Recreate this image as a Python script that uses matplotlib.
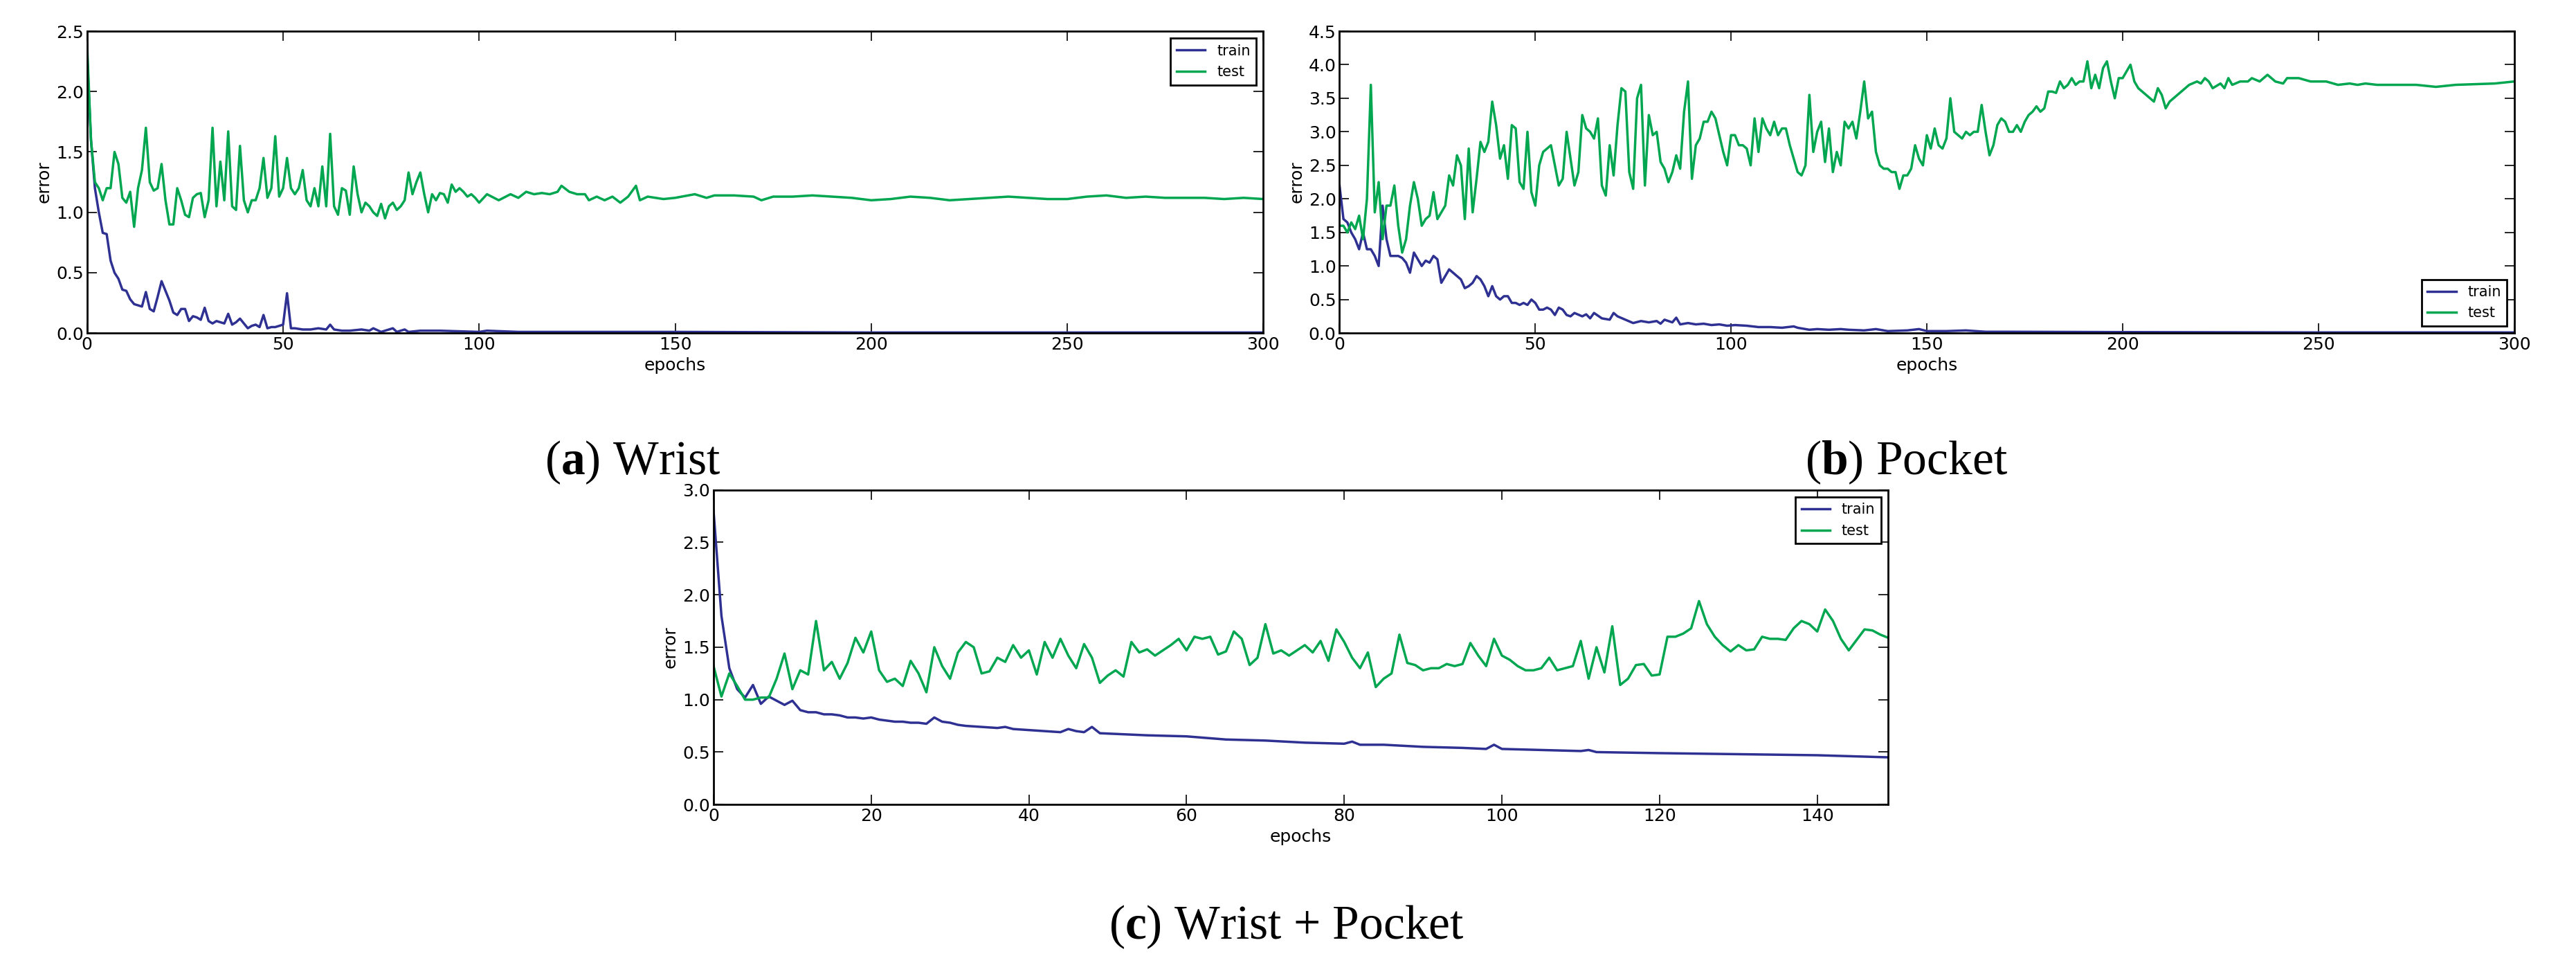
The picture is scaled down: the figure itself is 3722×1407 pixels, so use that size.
import matplotlib
matplotlib.use("Agg")
import matplotlib.pyplot as plt

# ---- data ----
a_test_x = [0,1,2,3,4,5,6,7,8,9,10,11,12,13,14,15,16,17,18,19,20,21,22,23,24,25,26,27,28,29,30,31,32,33,34,35,36,37,38,39,40,41,42,43,44,45,46,47,48,49,50,51,52,53,54,55,56,57,58,59,60,61,62,63,64,65,66,67,68,69,70,71,72,73,74,75,76,77,78,79,80,81,82,83,84,85,86,87,88,89,90,91,92,93,94,95,96,97,98,99,100,102,105,108,110,112,114,116,118,120,121,123,125,127,128,130,132,134,136,138,140,141,143,145,147,150,155,158,160,165,170,172,175,180,185,190,195,200,205,210,215,220,225,230,235,240,245,250,255,260,265,270,275,280,285,290,295,300]
a_test_y = [2.4,1.6,1.25,1.2,1.1,1.2,1.2,1.5,1.4,1.12,1.08,1.17,0.88,1.2,1.35,1.7,1.25,1.18,1.2,1.4,1.1,0.9,0.9,1.2,1.1,0.98,0.96,1.12,1.15,1.16,0.96,1.1,1.7,1.05,1.42,1.1,1.67,1.05,1.02,1.55,1.1,1.0,1.1,1.1,1.2,1.45,1.12,1.2,1.63,1.13,1.2,1.45,1.2,1.15,1.2,1.35,1.1,1.05,1.2,1.05,1.38,1.05,1.65,1.05,0.98,1.2,1.18,0.98,1.38,1.15,1.0,1.08,1.05,1.0,0.97,1.07,0.95,1.05,1.08,1.02,1.05,1.1,1.33,1.15,1.25,1.33,1.15,1.0,1.15,1.1,1.16,1.15,1.08,1.23,1.17,1.2,1.17,1.13,1.15,1.12,1.08,1.15,1.1,1.15,1.12,1.17,1.15,1.16,1.15,1.17,1.22,1.17,1.15,1.15,1.1,1.13,1.1,1.13,1.08,1.13,1.22,1.1,1.13,1.12,1.11,1.12,1.15,1.12,1.14,1.14,1.13,1.10,1.13,1.13,1.14,1.13,1.12,1.10,1.11,1.13,1.12,1.10,1.11,1.12,1.13,1.12,1.11,1.11,1.13,1.14,1.12,1.13,1.12,1.12,1.12,1.11,1.12,1.11]
a_train_x = [0,1,2,3,4,5,6,7,8,9,10,11,12,13,14,15,16,17,18,19,20,21,22,23,24,25,26,27,28,29,30,31,32,33,34,35,36,37,38,39,40,41,42,43,44,45,46,47,48,49,50,51,52,53,55,57,59,61,62,63,65,67,70,72,73,75,77,78,79,81,82,85,90,100,102,110,150,200,300]
a_train_y = [2.3,1.6,1.2,1.0,0.83,0.82,0.6,0.5,0.45,0.36,0.35,0.28,0.24,0.23,0.22,0.34,0.2,0.18,0.3,0.43,0.35,0.27,0.17,0.15,0.2,0.2,0.1,0.14,0.13,0.11,0.21,0.1,0.08,0.1,0.09,0.08,0.16,0.07,0.09,0.12,0.08,0.04,0.06,0.07,0.05,0.15,0.04,0.05,0.05,0.06,0.07,0.33,0.04,0.04,0.03,0.03,0.04,0.03,0.07,0.03,0.02,0.02,0.03,0.02,0.04,0.01,0.03,0.04,0.01,0.03,0.01,0.02,0.02,0.01,0.02,0.01,0.01,0.005,0.005]

b_test_x = list(range(0, 206)) + [207,208,209,210,211,212,214,215,217,219,220,221,222,223,225,226,227,228,230,232,233,235,237,239,241,242,245,248,250,252,255,258,260,262,265,270,275,280,285,290,295,300]
b_test_y = [1.6,1.6,1.5,1.65,1.55,1.75,1.4,2.0,3.7,1.8,2.25,1.4,1.9,1.9,2.2,1.6,1.2,1.4,1.9,2.25,2.0,1.6,1.7,1.75,2.1,1.7,1.8,1.9,2.35,2.2,2.65,2.5,1.7,2.75,1.8,2.3,2.85,2.7,2.85,3.45,3.1,2.6,2.8,2.3,3.1,3.05,2.25,2.15,3.0,2.1,1.9,2.5,2.7,2.75,2.8,2.5,2.2,2.3,3.0,2.6,2.2,2.4,3.25,3.05,3.0,2.9,3.2,2.2,2.05,2.8,2.35,3.1,3.65,3.6,2.4,2.15,3.5,3.7,2.2,3.25,2.95,3.0,2.55,2.45,2.25,2.4,2.65,2.45,3.3,3.75,2.3,2.8,2.9,3.15,3.15,3.3,3.2,2.95,2.7,2.5,2.95,2.95,2.8,2.8,2.75,2.5,3.2,2.7,3.2,3.05,2.95,3.15,2.95,3.05,3.05,2.8,2.6,2.4,2.35,2.5,3.55,2.7,3.0,3.15,2.55,3.05,2.4,2.7,2.5,3.15,3.05,3.15,2.9,3.3,3.75,3.2,3.3,2.7,2.5,2.45,2.45,2.4,2.4,2.15,2.35,2.35,2.45,2.8,2.6,2.5,2.95,2.75,3.05,2.8,2.75,2.9,3.5,3.0,2.95,2.9,3.0,2.95,3.0,3.0,3.4,3.0,2.65,2.8,3.1,3.2,3.15,3.0,3.0,3.1,3.0,3.15,3.25,3.3,3.38,3.3,3.35,3.6,3.6,3.58,3.75,3.65,3.7,3.8,3.7,3.75,3.75,4.05,3.65,3.85,3.65,3.95,4.05,3.75,3.5,3.8,3.8,3.9,4.0,3.75,3.65,3.6,3.5,3.45,3.65,3.55,3.35,3.45,3.55,3.6,3.7,3.75,3.72,3.8,3.75,3.65,3.72,3.65,3.8,3.7,3.75,3.75,3.8,3.75,3.85,3.75,3.72,3.8,3.8,3.75,3.75,3.75,3.7,3.72,3.70,3.72,3.70,3.70,3.70,3.67,3.70,3.71,3.72,3.75]
b_train_x = list(range(0, 61)) + [62,63,64,65,67,69,70,71,73,75,77,79,81,82,83,85,86,87,89,91,93,95,97,99,101,104,107,110,113,116,117,120,122,125,128,130,134,137,140,145,148,150,155,160,165,170,200,250,300]
b_train_y = [2.2,1.7,1.65,1.5,1.4,1.25,1.5,1.25,1.25,1.15,1.0,1.9,1.4,1.15,1.15,1.15,1.12,1.05,0.9,1.2,1.1,1.0,1.08,1.05,1.15,1.1,0.75,0.85,0.95,0.9,0.85,0.8,0.67,0.7,0.75,0.85,0.8,0.7,0.55,0.7,0.55,0.5,0.55,0.55,0.45,0.45,0.42,0.45,0.42,0.5,0.45,0.35,0.35,0.38,0.35,0.27,0.38,0.35,0.27,0.25,0.3,0.25,0.28,0.22,0.3,0.22,0.2,0.3,0.25,0.2,0.15,0.18,0.16,0.18,0.14,0.2,0.16,0.23,0.13,0.15,0.13,0.14,0.12,0.13,0.11,0.12,0.11,0.09,0.09,0.08,0.1,0.08,0.05,0.06,0.05,0.06,0.05,0.04,0.06,0.03,0.04,0.06,0.03,0.03,0.04,0.02,0.02,0.015,0.01,0.01]

c_test_x = list(range(0, 150))
c_test_y = [1.32,1.03,1.25,1.13,1.0,1.0,1.02,1.02,1.2,1.44,1.1,1.28,1.24,1.75,1.28,1.36,1.2,1.35,1.59,1.45,1.65,1.28,1.17,1.2,1.13,1.37,1.25,1.07,1.5,1.32,1.2,1.45,1.55,1.5,1.25,1.27,1.4,1.36,1.52,1.4,1.47,1.24,1.55,1.4,1.58,1.42,1.3,1.53,1.4,1.16,1.23,1.28,1.22,1.55,1.45,1.48,1.42,1.47,1.52,1.58,1.47,1.6,1.58,1.6,1.43,1.46,1.65,1.58,1.33,1.4,1.72,1.44,1.47,1.42,1.47,1.52,1.45,1.56,1.37,1.67,1.55,1.4,1.3,1.45,1.12,1.2,1.25,1.62,1.35,1.33,1.28,1.3,1.3,1.34,1.32,1.34,1.54,1.42,1.32,1.58,1.42,1.38,1.32,1.28,1.28,1.3,1.4,1.28,1.3,1.32,1.56,1.2,1.5,1.26,1.7,1.14,1.2,1.33,1.34,1.23,1.24,1.6,1.6,1.63,1.68,1.94,1.72,1.6,1.52,1.46,1.52,1.47,1.48,1.6,1.58,1.58,1.57,1.68,1.75,1.72,1.65,1.86,1.75,1.58,1.47,1.57,1.67,1.66,1.62,1.59]
c_train_x = list(range(0, 33)) + [34,36,37,38,40,42,44,45,46,47,48,49,52,55,60,65,70,75,80,81,82,85,90,95,98,99,100,105,110,111,112,120,130,140,149]
c_train_y = [2.8,1.8,1.3,1.1,1.02,1.14,0.96,1.03,0.99,0.95,0.99,0.9,0.88,0.88,0.86,0.86,0.85,0.83,0.83,0.82,0.83,0.81,0.8,0.79,0.79,0.78,0.78,0.77,0.83,0.79,0.78,0.76,0.75,0.74,0.73,0.74,0.72,0.71,0.7,0.69,0.72,0.7,0.69,0.74,0.68,0.67,0.66,0.65,0.62,0.61,0.59,0.58,0.6,0.57,0.57,0.55,0.54,0.53,0.57,0.53,0.52,0.51,0.52,0.5,0.49,0.48,0.47,0.45]

BLUE = '#2e3192'
GREEN = '#00a650'

plt.rcParams['mathtext.fontset'] = 'custom'
plt.rcParams['mathtext.rm'] = 'Liberation Serif'
plt.rcParams['mathtext.bf'] = 'Liberation Serif:bold'

fig = plt.figure(figsize=(37.22, 14.07), dpi=100)

def panel(rect, tx, ty, rx, ry, xmax, ymax, yticks, xticks, legloc):
    ax = fig.add_axes(rect)
    ax.plot(rx, ry, color=BLUE, lw=2.5, label='train')
    ax.plot(tx, ty, color=GREEN, lw=2.5, label='test')
    ax.set_xlim(0, xmax)
    ax.set_ylim(0, ymax)
    ax.set_yticks(yticks)
    ax.set_xticks(xticks)
    ax.tick_params(direction='in', top=True, right=True, labelsize=18, length=10, width=1.2)
    for s in ax.spines.values():
        s.set_linewidth(2)
    ax.set_xlabel('epochs', fontsize=18)
    ax.set_ylabel('error', fontsize=18)
    leg = ax.legend(loc=legloc, fontsize=15, fancybox=False, framealpha=1)
    leg.get_frame().set_edgecolor('black')
    leg.get_frame().set_linewidth(2)
    return ax

panel([0.0338, 0.658, 0.4566, 0.310], a_test_x, a_test_y, a_train_x, a_train_y, 300, 2.5,
      [0, 0.5, 1.0, 1.5, 2.0, 2.5], [0, 50, 100, 150, 200, 250, 300], 'upper right')
panel([0.520, 0.658, 0.456, 0.310], b_test_x, b_test_y, b_train_x, b_train_y, 300, 4.5,
      [0, 0.5, 1.0, 1.5, 2.0, 2.5, 3.0, 3.5, 4.0, 4.5], [0, 50, 100, 150, 200, 250, 300], 'lower right')
panel([0.277, 0.174, 0.456, 0.323], c_test_x, c_test_y, c_train_x, c_train_y, 149, 3.0,
      [0, 0.5, 1.0, 1.5, 2.0, 2.5, 3.0], [0, 20, 40, 60, 80, 100, 120, 140], 'upper right')

fig.text(0.2455, 0.525, r'($\mathbf{a}$) Wrist', fontsize=50, family='Liberation Serif', ha='center', va='center')
fig.text(0.740, 0.525, r'($\mathbf{b}$) Pocket', fontsize=50, family='Liberation Serif', ha='center', va='center')
fig.text(0.4995, 0.048, r'($\mathbf{c}$) Wrist + Pocket', fontsize=50, family='Liberation Serif', ha='center', va='center')

fig.savefig('out.png', dpi=100)
